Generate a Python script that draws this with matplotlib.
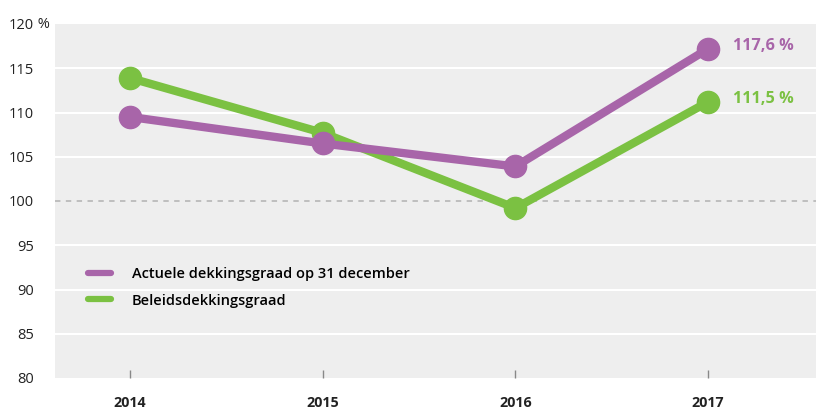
import matplotlib
matplotlib.use("Agg")
import matplotlib.pyplot as plt
from matplotlib.lines import Line2D

years = [2014, 2015, 2016, 2017]
actuele = [109.5, 106.5, 103.9, 117.2]
beleids = [113.9, 107.7, 99.2, 111.2]
yticks = [80, 85, 90, 95, 100, 105, 110, 115, 120]
labels_series = ["Actuele dekkingsgraad op 31 december", "Beleidsdekkingsgraad"]
end_labels = ["117,6 %", "111,5 %"]

purple = "#a865a9"
green = "#7bc142"
plt.rcParams['font.family'] = ['Open Sans', 'DejaVu Sans']

fig = plt.figure(figsize=(8.16, 4.12), dpi=100)
ax = fig.add_axes([55/816, 1-378/412, 1-55/816, (378-24)/412])
ax.set_facecolor("#eeeeee")
for s in ax.spines.values():
    s.set_visible(False)

ax.set_xlim(2014-75/193, 2017+108/193)
ax.set_ylim(80, 120)

for y in yticks:
    if y in (80, 120):
        continue
    if y == 100:
        ax.axhline(y, color="#bbbbbb", lw=1.3, ls=(0, (3, 3)), zorder=1)
    else:
        ax.axhline(y, color="white", lw=1.5, zorder=1)

ax.plot(years, actuele, color=purple, lw=6, marker="o", ms=16, zorder=3, solid_capstyle="round")
ax.plot(years, beleids, color=green, lw=6, marker="o", ms=16, zorder=2, solid_capstyle="round")

ax.set_yticks(yticks)
ax.set_yticklabels([str(y) for y in yticks], fontsize=10.5, color="#222222")
ax.tick_params(axis="y", length=0, pad=15)
ax.text(-21/761, 1.0, " %", transform=ax.transAxes, ha="left", va="center", fontsize=10.5, color="#222222")

ax.set_xticks(years)
ax.set_xticklabels([str(y) for y in years], fontsize=10.3, fontweight="bold", color="#222222")
ax.tick_params(axis="x", direction="in", length=6, width=1, color="#888888", pad=13)

ax.text(2017 + 25/193, actuele[-1] + 0.35, end_labels[0], color=purple, fontsize=11.7, fontweight="bold", va="center", ha="left")
ax.text(2017 + 25/193, beleids[-1] + 0.3, end_labels[1], color=green, fontsize=11.7, fontweight="bold", va="center", ha="left")

handles = [Line2D([0], [0], color=purple, lw=4.5, solid_capstyle="round"),
           Line2D([0], [0], color=green, lw=4.5, solid_capstyle="round")]
leg = ax.legend(handles, labels_series, loc="upper left", bbox_to_anchor=(20/761, (378-254)/354),
                frameon=False, handlelength=1.6, handletextpad=1.4, labelspacing=0.85,
                prop={"size": 10.5, "weight": "semibold"})

fig.savefig("out.png", dpi=100)
